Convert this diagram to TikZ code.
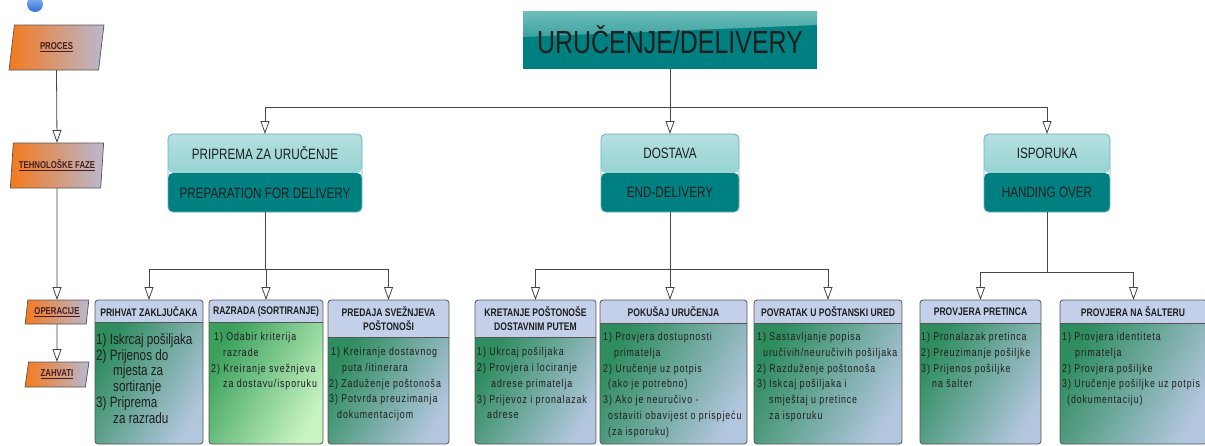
\documentclass[tikz,border=0pt]{standalone}
\usepackage{fontspec}
\setmainfont{Liberation Sans}
\newfontfamily\nar[FakeStretch=0.78]{Liberation Sans}
\newfontfamily\narsp[FakeStretch=0.78,LetterSpace=8]{Liberation Sans}
\usetikzlibrary{arrows.meta,shapes.geometric}

\definecolor{tealD}{RGB}{0,128,128}
\definecolor{tealT}{RGB}{182,224,224}
\definecolor{tealM}{RGB}{118,198,198}
\definecolor{tealG}{RGB}{110,190,186}
\definecolor{phaseB}{RGB}{100,176,176}
\definecolor{orangeC}{RGB}{244,122,30}
\definecolor{lavC}{RGB}{184,184,208}
\definecolor{hdrC}{RGB}{196,208,234}
\definecolor{bodyG}{RGB}{46,140,94}
\definecolor{bodyL}{RGB}{178,198,222}
\definecolor{razG}{RGB}{58,160,92}
\definecolor{razL}{RGB}{200,244,196}
\definecolor{boxC}{RGB}{85,85,85}
\definecolor{lineC}{RGB}{70,70,70}
\definecolor{textD}{RGB}{30,30,30}
\definecolor{procT}{RGB}{70,30,30}
\definecolor{blueA}{RGB}{140,186,240}
\definecolor{blueB}{RGB}{50,110,210}

\newcommand\opbox[5]{%
  \begin{scope}
    \clip[rounded corners=3pt] (#2,300) rectangle (#3,444);
    \shade[#5] (#2,#4) rectangle (#3,444);
    \fill[hdrC] (#2,300) rectangle (#3,#4);
    \draw[boxC, line width=0.7pt] (#2,#4) -- (#3,#4);
  \end{scope}
  \node[opframe, minimum width={#3-#2}, anchor=north west] (#1) at (#2,300) {};
}

\begin{document}
\begin{tikzpicture}[x=1pt,y=-1pt,
  conn/.style={draw=lineC, line width=0.8pt},
  arr/.style={conn, -{Triangle[length=13pt,width=9pt,fill=white,line width=0.8pt]}},
  para/.style={trapezium, trapezium left angle=77, trapezium right angle=103,
    trapezium stretches=true, draw=boxC, line width=0.7pt,
    left color=orangeC, right color=lavC, inner sep=0, outer sep=0,
    font=\nar\bfseries\fontsize{10}{12}\selectfont, text=procT},
  title/.style={minimum width=294, minimum height=58, inner sep=0, outer sep=0,
    fill=tealD, font=\nar\fontsize{32}{36}\selectfont, text=textD,
    path picture={\shade[top color=tealG, bottom color=tealD]
      (path picture bounding box.north west) -- (path picture bounding box.north east)
      -- ([yshift=-14pt]path picture bounding box.north east)
      -- ([yshift=-26pt]path picture bounding box.north west) -- cycle;}},
  phase/.style={draw=phaseB, line width=0.8pt, rounded corners=5pt, minimum height=78,
    inner sep=0, outer sep=0, align=center, text=textD,
    font=\nar\fontsize{15}{39}\selectfont,
    path picture={
      \shade[top color=tealT, bottom color=tealM]
        (path picture bounding box.north west) rectangle (path picture bounding box.east);
      \fill[tealD] (path picture bounding box.west) rectangle (path picture bounding box.south east);}},
  opframe/.style={draw=boxC, line width=0.8pt, rounded corners=3pt, minimum height=144,
    inner sep=0, outer sep=0},
  bodysh/.style={left color=bodyG, right color=bodyL, shading angle=60},
  razsh/.style={left color=razG, right color=razL, shading angle=60},
  hdrt/.style={inner sep=0, align=center, text=textD,
    font=\nar\bfseries\fontsize{11}{14}\selectfont},
  bodyt/.style={anchor=north west, inner sep=0, align=left, text=textD,
    font=\narsp\fontsize{11.3}{15.7}\selectfont},
  bigbody/.style={anchor=north west, inner sep=0, align=left, text=textD,
    font=\nar\fontsize{15}{15.9}\selectfont}
]
\useasboundingbox (0,0) rectangle (1205,445);
\fill[white] (0,0) rectangle (1205,445);

% blue circle
\shade[top color=blueA, bottom color=blueB] (35,4) circle (8);

% left column
\node[para, minimum width=95, minimum height=45] (proc) at (56.5,47.5) {\underline{PROCES}};
\node[para, minimum width=94, minimum height=45] (teh) at (57,165.5) {\underline{TEHNOLOŠKE FAZE}};
\node[para, minimum width=64, minimum height=24] (oper) at (57,312) {\underline{OPERACIJE}};
\node[para, minimum width=64, minimum height=25] (zah) at (57,374.5) {\underline{ZAHVATI}};
\draw[arr] (proc.south) -- (teh.north);
\draw[arr] (teh.south) -- (oper.north);
\draw[arr] (oper.south) -- (zah.north);

% title
\node[title] (t) at (670,40) {URUČENJE/DELIVERY};

% phases
\node[phase, minimum width=194] (p1) at (265,173) {PRIPREMA ZA URUČENJE\\PREPARATION FOR DELIVERY};
\node[phase, minimum width=138] (p2) at (670,173) {DOSTAVA\\END-DELIVERY};
\node[phase, minimum width=126] (p3) at (1047,173) {ISPORUKA\\HANDING OVER};

\coordinate (j0) at (670,107);
\draw[conn] (t.south) -- (j0);
\draw[arr] (j0) -| (p1.north);
\draw[arr] (j0) -- (p2.north);
\draw[arr] (j0) -| (p3.north);

% operation boxes
\opbox{o1}{95}{203}{322}{bodysh}
\opbox{o2}{209}{323}{322}{razsh}
\opbox{o3}{328}{449}{337}{bodysh}
\opbox{o4}{475}{596}{337}{bodysh}
\opbox{o5}{600}{747}{323}{bodysh}
\opbox{o6}{754}{902}{323}{bodysh}
\opbox{o7}{920}{1041}{323}{bodysh}
\opbox{o8}{1060}{1207}{323}{bodysh}

\coordinate (j1) at (265,269);
\coordinate (j2) at (670,269);
\coordinate (j3) at (1047,272);
\draw[conn] (p1.south) -- (j1);
\draw[conn] (p2.south) -- (j2);
\draw[conn] (p3.south) -- (j3);
\draw[arr] (j1) -| (o1.north);
\draw[arr] (j1) -| (o2.north);
\draw[arr] (j1) -| (o3.north);
\draw[arr] (j2) -| (o4.north);
\draw[arr] (j2) -- (o5.north -| j2);
\draw[arr] (j2) -| (o6.north);
\draw[arr] (j3) -| (o7.north);
\draw[arr] (j3) -| (o8.north);

% headers
\node[hdrt] (h1) at (149,311.5) {PRIHVAT ZAKLJUČAKA};
\node[hdrt] (h2) at (266,311.5) {RAZRADA (SORTIRANJE)};
\node[hdrt] (h3) at (388.5,319) {PREDAJA SVEŽNJEVA\\POŠTONOŠI};
\node[hdrt] (h4) at (535.5,319) {KRETANJE POŠTONOŠE\\DOSTAVNIM PUTEM};
\node[hdrt] (h5) at (673.5,312) {POKUŠAJ URUČENJA};
\node[hdrt] (h6) at (828,312) {POVRATAK U POŠTANSKI URED};
\node[hdrt] (h7) at (980.5,312) {PROVJERA PRETINCA};
\node[hdrt] (h8) at (1133,312) {PROVJERA NA ŠALTERU};

% bodies
\node[bigbody] (b1) at (96,333) {1) Iskrcaj pošiljaka\\2) Prijenos do\\\hspace*{17pt}mjesta za\\\hspace*{17pt}sortiranje\\3) Priprema\\\hspace*{17pt}za razradu};
\node[bodyt] (b2) at (211,332.5) {\hspace*{3pt}1) Odabir kriterija\\\hspace*{12pt}razrade\\2) Kreiranje svežnjeva\\\hspace*{12pt}za dostavu/isporuku};
\node[bodyt] (b3) at (329,347.5) {\hspace*{2pt}1) Kreiranje dostavnog\\\hspace*{13pt}puta /itinerara\\2) Zaduženje poštonoša\\3) Potvrda preuzimanja\\\hspace*{8pt}dokumentacijom};
\node[bodyt] (b4) at (477,347.5) {1) Ukrcaj pošiljaka\\2) Provjera i lociranje\\\hspace*{14pt}adrese primatelja\\3) Prijevoz i pronalazak\\\hspace*{10pt}adrese};
\node[bodyt] (b5) at (603,332.5) {1) Provjera dostupnosti\\\hspace*{11pt}primatelja\\2) Uručenje uz potpis\\\hspace*{5pt}(ako je potrebno)\\3) Ako je neuručivo -\\\hspace*{5pt}ostaviti obavijest o prispjeću\\\hspace*{5pt}(za isporuku)};
\node[bodyt] (b6) at (757,332.5) {1) Sastavljanje popisa\\\hspace*{6pt}uručivih/neuručivih pošiljaka\\2) Razduženje poštonoša\\3) Iskcaj pošiljaka i\\\hspace*{12pt}smještaj u pretince\\\hspace*{12pt}za isporuku};
\node[bodyt] (b7) at (921,332.5) {1) Pronalazak pretinca\\2) Preuzimanje pošiljke\\3) Prijenos pošiljke\\\hspace*{11pt}na šalter};
\node[bodyt] (b8) at (1062,332.5) {1) Provjera identiteta\\\hspace*{13pt}primatelja\\2) Provjera pošiljke\\3) Uručenje pošiljke uz potpis\\\hspace*{5pt}(dokumentaciju)};
\end{tikzpicture}
\end{document}
